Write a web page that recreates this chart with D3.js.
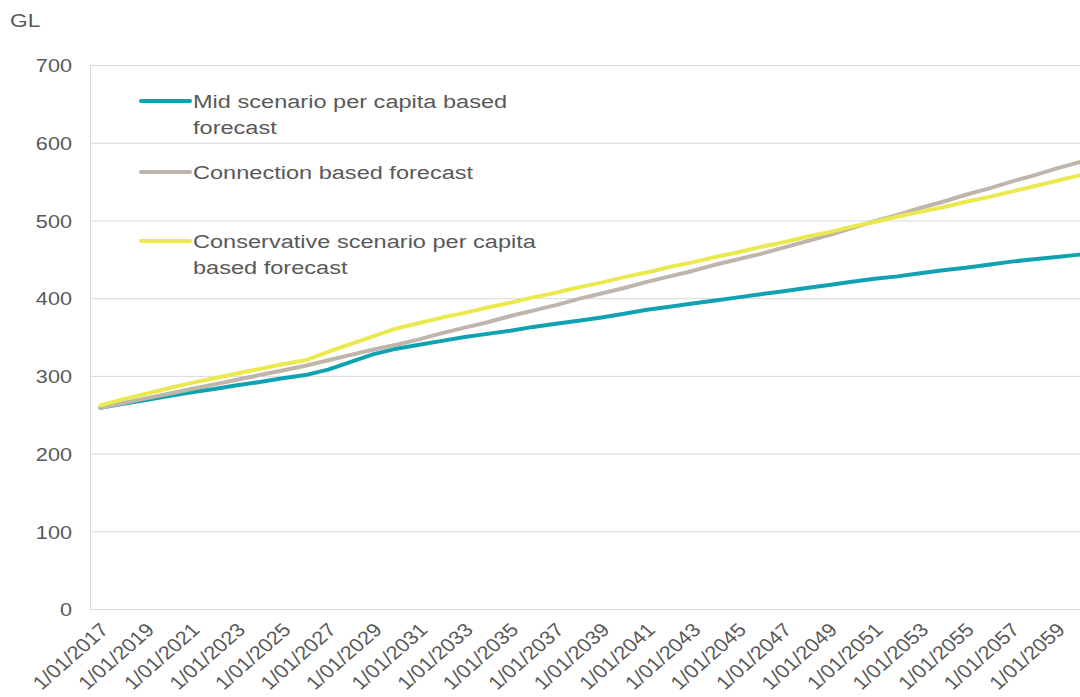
<!DOCTYPE html>
<html>
<head>
<meta charset="utf-8">
<script src="https://cdn.jsdelivr.net/npm/d3@7/dist/d3.min.js"></script>
<style>
  html, body { margin: 0; padding: 0; background: #ffffff; }
  svg { display: block; }
  text { font-family: "Liberation Sans", Arial, sans-serif; fill: #595959; }
</style>
</head>
<body>
<svg id="chart" width="1080" height="697"></svg>
<script>
// Annual demand forecasts, GL, 2017–2060
const years = d3.range(2017, 2061);

const midScenario = [
  259, 264, 269, 274, 279, 283, 288, 292, 297, 301,
  308, 318, 328, 335, 340, 345, 350, 354, 358, 363,
  367, 371, 375, 380, 385, 389, 393, 397, 401, 405,
  409, 413, 417, 421, 425, 428, 432, 436, 439, 443,
  447, 450, 453, 456
];

const connectionBased = [
  259, 265, 271, 277, 283, 289, 295, 301, 307, 313,
  320, 327, 334, 340, 347, 355, 362, 369, 377, 384,
  391, 399, 406, 413, 421, 428, 435, 443, 450, 457,
  465, 473, 481, 490, 499, 507, 516, 524, 533, 541,
  550, 558, 567, 575
];

const conservativeScenario = [
  262, 270, 277, 284, 291, 297, 303, 309, 315, 320,
  331, 341, 351, 361, 368, 375, 381, 388, 394, 401,
  407, 414, 420, 427, 433, 440, 446, 453, 459, 466,
  472, 479, 485, 492, 498, 505, 511, 517, 524, 530,
  537, 544, 551, 558
];

const seriesNames = [
  ["Mid scenario per capita based", "forecast"],
  ["Connection based forecast"],
  ["Conservative scenario per capita", "based forecast"]
];
const seriesColors = ["#0fa3b1", "#bfb5aa", "#eaea4e"];

const yTicks = [0, 100, 200, 300, 400, 500, 600, 700];
const xTickYears = d3.range(2017, 2060, 2);
const unitLabel = "GL";

const series = [midScenario, connectionBased, conservativeScenario];

// Text in this chart is set slightly wide
const wide = 1.14;
const legendWide = 1.24;

const svg = d3.select("#chart");
const plot = { left: 90, right: 1080, top: 65, bottom: 609 };

const x = d3.scalePoint()
  .domain(years)
  .range([89, 1091])
  .padding(0.5);

const y = d3.scaleLinear()
  .domain([0, 700])
  .range([plot.bottom, plot.top]);

// Horizontal gridlines
svg.append("g")
  .selectAll("line")
  .data(yTicks)
  .join("line")
  .attr("x1", plot.left)
  .attr("x2", plot.right)
  .attr("y1", d => y(d) + 0.5)
  .attr("y2", d => y(d) + 0.5)
  .attr("stroke", "#d9d9d9")
  .attr("stroke-width", 1);

// Vertical axis line
svg.append("line")
  .attr("x1", plot.left + 0.5)
  .attr("x2", plot.left + 0.5)
  .attr("y1", plot.top)
  .attr("y2", plot.bottom)
  .attr("stroke", "#d9d9d9");

// Y axis labels
const yAxis = d3.axisLeft(y).tickValues(yTicks).tickSize(0).tickPadding(0);
const yg = svg.append("g")
  .attr("transform", `translate(72,0)`)
  .call(yAxis);
yg.select(".domain").remove();
yg.selectAll("text")
  .attr("font-size", 19)
  .attr("fill", "#595959")
  .attr("font-family", "Liberation Sans, Arial, sans-serif")
  .attr("x", 0)
  .attr("dy", "0.36em")
  .attr("transform", `scale(${wide},1)`);

// Unit label
svg.append("text")
  .attr("transform", `translate(10,27) scale(1.2,1)`)
  .attr("font-size", 19)
  .text(unitLabel);

// X axis labels, every second year, rotated
const xAxis = d3.axisBottom(x)
  .tickValues(xTickYears)
  .tickSize(0)
  .tickPadding(0)
  .tickFormat(d => `1/01/${d}`);
const xg = svg.append("g")
  .attr("transform", `translate(0,${plot.bottom})`)
  .call(xAxis);
xg.select(".domain").remove();
xg.selectAll("text")
  .attr("font-size", 19)
  .attr("fill", "#595959")
  .attr("font-family", "Liberation Sans, Arial, sans-serif")
  .attr("text-anchor", "end")
  .attr("dy", null)
  .attr("y", 0)
  .attr("transform", `translate(9,22) scale(${wide},1) rotate(-45)`);

// Series lines
const line = d3.line()
  .x((d, i) => x(years[i]))
  .y(d => y(d));

svg.append("g")
  .selectAll("path")
  .data(series)
  .join("path")
  .attr("d", d => line(d))
  .attr("fill", "none")
  .attr("stroke", (d, i) => seriesColors[i])
  .attr("stroke-width", 4)
  .attr("stroke-linejoin", "round")
  .attr("stroke-linecap", "round");

// Legend
const legendRows = [101, 172, 241];
const legend = svg.append("g");
seriesNames.forEach((lines, i) => {
  const g = legend.append("g").attr("transform", `translate(0,${legendRows[i]})`);
  g.append("line")
    .attr("x1", 141).attr("x2", 190)
    .attr("y1", 0).attr("y2", 0)
    .attr("stroke", seriesColors[i])
    .attr("stroke-width", 4)
    .attr("stroke-linecap", "round");
  lines.forEach((t, j) => {
    g.append("text")
      .attr("transform", `translate(193,${j * 26}) scale(${legendWide},1)`)
      .attr("dy", "0.36em")
      .attr("font-size", 19)
      .text(t);
  });
});
</script>
</body>
</html>
